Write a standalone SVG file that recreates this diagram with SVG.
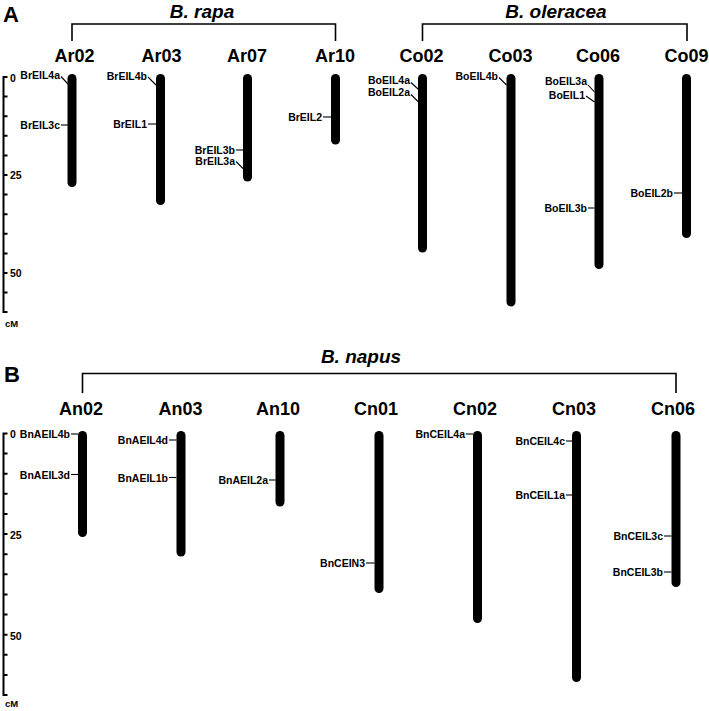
<svg xmlns="http://www.w3.org/2000/svg" width="709" height="711" viewBox="0 0 709 711">
<style>
text{font-family:"Liberation Sans",Arial,sans-serif;font-weight:bold;fill:#000}
.panel{font-size:22px}
.sp{font-size:19px;font-style:italic;text-anchor:middle}
.chl{font-size:18px;text-anchor:middle}
.mk{font-size:10.5px;text-anchor:end}
.sc{font-size:10.5px}
.cm{font-size:9.5px}
.chr{fill:#000}
.br{fill:none;stroke:#000;stroke-width:1.6}
.ld{stroke:#000;stroke-width:1.1;fill:none}
.ax{stroke:#000;stroke-width:2;fill:none}
</style>
<rect width="709" height="711" fill="#fff"/>

<!-- Panel A -->
<text class="panel" x="3" y="22">A</text>
<text class="sp" x="202" y="18">B. rapa</text>
<text class="sp" x="556" y="18">B. oleracea</text>
<path class="br" d="M72,41V24H335.5V41"/>
<path class="br" d="M422.5,41V24H687V41"/>

<g id="scaleA">
<path class="ax" d="M7.5,77H3.5V312H7.5 M3.5,96.6H7.5 M3.5,116.2H7.5 M3.5,135.8H7.5 M3.5,155.4H7.5 M3.5,175H7.5 M3.5,194.6H7.5 M3.5,214.2H7.5 M3.5,233.8H7.5 M3.5,253.4H7.5 M3.5,273H7.5 M3.5,292.6H7.5"/>
<text class="sc" x="10" y="82">0</text>
<text class="sc" x="10" y="179">25</text>
<text class="sc" x="10" y="277">50</text>
<text class="cm" x="5" y="327">cM</text>
</g>

<g id="Ar02"><text class="chl" x="74.5" y="62">Ar02</text><rect class="chr" x="67.5" y="74" width="9" height="113" rx="4.5"/></g>
<g id="Ar03"><text class="chl" x="161.5" y="62">Ar03</text><rect class="chr" x="156" y="74" width="9" height="131" rx="4.5"/></g>
<g id="Ar07"><text class="chl" x="247" y="62">Ar07</text><rect class="chr" x="243" y="74" width="9" height="107.5" rx="4.5"/></g>
<g id="Ar10"><text class="chl" x="335" y="62">Ar10</text><rect class="chr" x="331" y="74" width="9" height="70.5" rx="4.5"/></g>
<g id="Co02"><text class="chl" x="421.5" y="62">Co02</text><rect class="chr" x="418" y="74" width="9" height="178.5" rx="4.5"/></g>
<g id="Co03"><text class="chl" x="510.5" y="62">Co03</text><rect class="chr" x="506.5" y="74" width="9" height="232.5" rx="4.5"/></g>
<g id="Co06"><text class="chl" x="598" y="62">Co06</text><rect class="chr" x="594.5" y="74" width="9" height="195" rx="4.5"/></g>
<g id="Co09"><text class="chl" x="686.5" y="62">Co09</text><rect class="chr" x="682" y="74" width="9" height="164" rx="4.5"/></g>

<g id="markersA">
<text class="mk" x="60" y="78.5">BrEIL4a</text>
<text class="mk" x="60" y="129">BrEIL3c</text>
<text class="mk" x="147" y="79.5">BrEIL4b</text>
<text class="mk" x="147" y="128">BrEIL1</text>
<text class="mk" x="235" y="153.5">BrEIL3b</text>
<text class="mk" x="235" y="164.5">BrEIL3a</text>
<text class="mk" x="322" y="121">BrEIL2</text>
<text class="mk" x="410" y="84">BoEIL4a</text>
<text class="mk" x="410" y="96">BoEIL2a</text>
<text class="mk" x="498" y="80">BoEIL4b</text>
<text class="mk" x="587" y="85">BoEIL3a</text>
<text class="mk" x="585" y="99">BoEIL1</text>
<text class="mk" x="587" y="212">BoEIL3b</text>
<text class="mk" x="673" y="197">BoEIL2b</text>
</g>

<!-- Panel B -->
<text class="panel" x="4" y="382">B</text>
<text class="sp" x="361" y="363">B. napus</text>
<path class="br" d="M82.5,393V373.5H676V393"/>

<g id="scaleB">
<path class="ax" d="M7.5,433.5H3.5V695H7.5 M3.5,453.6H7.5 M3.5,473.7H7.5 M3.5,493.8H7.5 M3.5,514H7.5 M3.5,534.1H7.5 M3.5,554.2H7.5 M3.5,574.3H7.5 M3.5,594.4H7.5 M3.5,614.5H7.5 M3.5,634.7H7.5 M3.5,654.8H7.5 M3.5,674.9H7.5"/>
<text class="sc" x="10" y="437.5">0</text>
<text class="sc" x="10" y="539">25</text>
<text class="sc" x="10" y="640">50</text>
<text class="cm" x="5" y="707">cM</text>
</g>

<g id="An02"><text class="chl" x="81" y="415">An02</text><rect class="chr" x="78" y="431" width="9" height="106" rx="4.5"/></g>
<g id="An03"><text class="chl" x="180.5" y="415">An03</text><rect class="chr" x="176.5" y="431" width="9" height="125.5" rx="4.5"/></g>
<g id="An10"><text class="chl" x="278" y="415">An10</text><rect class="chr" x="275.5" y="431" width="9" height="75.5" rx="4.5"/></g>
<g id="Cn01"><text class="chl" x="376" y="415">Cn01</text><rect class="chr" x="374.5" y="431" width="9" height="162" rx="4.5"/></g>
<g id="Cn02"><text class="chl" x="475" y="415">Cn02</text><rect class="chr" x="473" y="431" width="9" height="192" rx="4.5"/></g>
<g id="Cn03"><text class="chl" x="574" y="415">Cn03</text><rect class="chr" x="572" y="431" width="9" height="251" rx="4.5"/></g>
<g id="Cn06"><text class="chl" x="673" y="415">Cn06</text><rect class="chr" x="671.5" y="431" width="9" height="156" rx="4.5"/></g>

<g id="markersB">
<text class="mk" x="70" y="438">BnAEIL4b</text>
<text class="mk" x="70" y="478.5">BnAEIL3d</text>
<text class="mk" x="168" y="444">BnAEIL4d</text>
<text class="mk" x="168" y="481.5">BnAEIL1b</text>
<text class="mk" x="268" y="484">BnAEIL2a</text>
<text class="mk" x="365" y="567">BnCEIN3</text>
<text class="mk" x="465" y="438">BnCEIL4a</text>
<text class="mk" x="565" y="445">BnCEIL4c</text>
<text class="mk" x="565" y="499">BnCEIL1a</text>
<text class="mk" x="663" y="540">BnCEIL3c</text>
<text class="mk" x="663" y="576">BnCEIL3b</text>
</g>

<g id="connectors">
<path class="ld" d="M61,76.5L68,84"/>
<path class="ld" d="M61,125H68"/>
<path class="ld" d="M148,77L156,85"/>
<path class="ld" d="M148,124H156"/>
<path class="ld" d="M236,150H243"/>
<path class="ld" d="M236,161.5L243,168.5"/>
<path class="ld" d="M323,117H331"/>
<path class="ld" d="M411,82.5L418,89"/>
<path class="ld" d="M411,94.5L418,101.5"/>
<path class="ld" d="M499,77.5L506.5,85"/>
<path class="ld" d="M588,85L594.5,92"/>
<path class="ld" d="M586,96L594.5,102"/>
<path class="ld" d="M588,208H594.5"/>
<path class="ld" d="M674,193H682"/>
<path class="ld" d="M71,434H78"/>
<path class="ld" d="M71,474.5H78"/>
<path class="ld" d="M169,440H176.5"/>
<path class="ld" d="M169,477.5H176.5"/>
<path class="ld" d="M269,480H275.5"/>
<path class="ld" d="M366,563H374.5"/>
<path class="ld" d="M466,434H473"/>
<path class="ld" d="M566,441H572"/>
<path class="ld" d="M566,495H572"/>
<path class="ld" d="M664,536H671.5"/>
<path class="ld" d="M664,572H671.5"/>
</g>
</svg>
